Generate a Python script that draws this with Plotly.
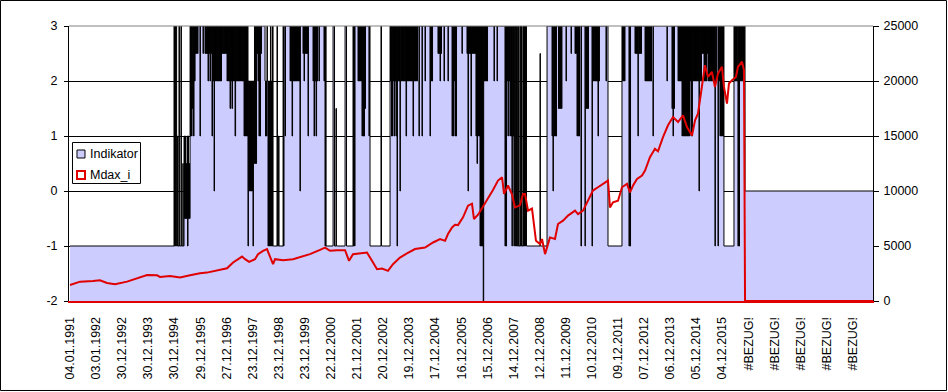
import plotly.graph_objects as go

# ---------------- data ----------------
date_labels = ["04.01.1991", "03.01.1992", "30.12.1992", "30.12.1993", "30.12.1994",
               "29.12.1995", "27.12.1996", "23.12.1997", "23.12.1998", "23.12.1999",
               "22.12.2000", "21.12.2001", "20.12.2002", "19.12.2003", "17.12.2004",
               "16.12.2005", "15.12.2006", "14.12.2007", "12.12.2008", "11.12.2009",
               "10.12.2010", "09.12.2011", "07.12.2012", "06.12.2013", "05.12.2014",
               "04.12.2015", "#BEZUG!", "#BEZUG!", "#BEZUG!", "#BEZUG!", "#BEZUG!"]
label_every = 250          # one category label every 250 rows
last_row = 7693            # last category row of the sheet

left_ticks = [-2, -1, 0, 1, 2, 3]
left_tick_text = ["-2", "-1", "0", "1", "2", "3"]
right_ticks = [0, 5000, 10000, 15000, 20000, 25000]
right_tick_text = ["0", "5000", "10000", "15000", "20000", "25000"]

# Indikator: (row where value starts, value)
indikator_changes = [
    (0, -1),
    (996, 3), (1001, -1), (1006, 3), (1011, -1), (1015, 3), (1021, -1),
    (1030, 1), (1034, -1), (1044, 3), (1048, -1), (1063, 3), (1067, -1), (1081, 0.5), (1084, -1),
    (1092, 1), (1097, -0.5), (1102, 1), (1106, -0.5), (1111, 0.5), (1116, -0.5), (1121, 1), (1126, -1),
    (1130, 1), (1135, -0.5), (1140, 0.5), (1145, -0.5),
    (1150, 3), (1154, 1), (1159, 3), (1164, 1), (1169, 3), (1174, 1.5), (1178, 3), (1183, 1), (1188, 3), (1193, 2),
    (1198, 3), (1202, 2.5), (1207, 3), (1212, 2.5), (1217, 3), (1222, 2.5), (1226, 3),
    (1245, 1), (1249, 3), (1274, 2.5), (1278, 3),
    (1293, 2.5), (1298, 3), (1303, 2.5), (1308, 3), (1312, 2.5), (1317, 3), (1322, 2), (1327, 3), (1332, 2.5),
    (1336, 3), (1341, 2), (1346, 3), (1351, 2.5), (1356, 3),
    (1360, 1), (1365, 3), (1370, 2), (1375, 3), (1380, 0), (1384, 3), (1389, 2), (1394, 3), (1399, 2), (1403, 3),
    (1408, 2), (1413, 3), (1418, 2), (1423, 3), (1428, 2), (1432, 3), (1437, 2), (1442, 3), (1447, 2), (1451, 3),
    (1456, 2.5), (1461, 3), (1466, 2.5), (1471, 3), (1475, 2.5), (1480, 3), (1485, 2.5), (1490, 3), (1495, 2.5), (1499, 3),
    (1504, 2), (1509, 3), (1514, 2), (1518, 3), (1523, 2), (1528, 3), (1533, 1.5), (1538, 3), (1542, 2), (1547, 3),
    (1552, 1.5), (1557, 3), (1562, 2), (1566, 3), (1571, 2), (1576, 3), (1581, 1), (1586, 3), (1590, 2), (1595, 3),
    (1600, 2), (1605, 3), (1609, 2), (1614, 3), (1619, 2), (1624, 3), (1629, 2), (1633, 3), (1638, 2), (1643, 3),
    (1648, 2), (1653, 3), (1657, 2), (1662, 3), (1667, 1), (1672, 3),
    (1677, 1), (1681, 3), (1686, 1), (1691, 3), (1696, 1), (1700, 3),
    (1705, -1), (1709, 2), (1715, 0), (1719, 2), (1724, 0), (1729, 2), (1734, 0), (1739, 2), (1744, 0), (1748, 2),
    (1753, -1), (1757, 2),
    (1763, 0.5), (1767, 3), (1772, 0.5), (1777, 3), (1782, 0.5), (1787, 3),
    (1791, 2.5), (1796, 3), (1801, 2), (1806, 3), (1810, 1), (1815, 3), (1820, 1), (1825, 3), (1830, 2.5), (1834, 3),
    (1868, 2), (1873, 1), (1878, 2), (1882, 1), (1887, 3), (1891, 2),
    (1897, -1), (1901, 2), (1906, -1), (1911, 2), (1916, -1), (1920, 3), (1925, -1), (1930, 2), (1935, -1), (1940, 3), (1945, -1),
    (1983, 3), (1987, -1), (1998, 1), (2002, -1),
    (2041, 3), (2045, -1), (2050, 3), (2060, 1), (2064, 3),
    (2108, 2), (2112, 3), (2117, 2), (2122, 3), (2127, 1), (2132, 3), (2136, 2), (2141, 3), (2146, 2), (2151, 3),
    (2155, 2), (2160, 3), (2165, 2), (2170, 3), (2175, 2), (2179, 3), (2184, 2), (2189, 3), (2194, 2), (2199, 3),
    (2203, 0), (2207, 3),
    (2232, 2.5), (2237, 3), (2242, 2), (2246, 3), (2251, 2.5), (2256, 3), (2261, 2.5), (2266, 3), (2270, 2.5), (2275, 3),
    (2280, 1), (2284, 3),
    (2328, 2), (2333, 3), (2338, 1), (2342, 3), (2347, 2), (2352, 3), (2357, 1), (2362, 3), (2366, 2), (2371, 3),
    (2385, 2), (2389, 3),
    (2433, 2), (2438, 3), (2443, -1), (2448, 3), (2453, -1),
    (2520, 3), (2534, -1), (2548, 1.5), (2552, -1),
    (2635, 3), (2649, -1),
    (2711, 3), (2716, -1), (2721, 3), (2726, -1), (2730, 3),
    (2759, 2), (2764, 3), (2768, 2), (2773, 3), (2778, 2), (2783, 3), (2788, 2), (2792, 3),
    (2797, 1), (2802, 3), (2807, 1), (2812, 3), (2816, 1), (2821, 3), (2826, 1.5), (2831, 3),
    (2864, 1), (2868, 3), (2874, -1),
    (2979, 3), (2984, -1),
    (3066, 3), (3070, 2), (3075, 3), (3080, 1), (3085, 3), (3090, 1), (3094, 3), (3099, 2), (3104, 3), (3109, 1),
    (3114, 3), (3118, 2), (3123, 3), (3128, 1), (3133, -1), (3137, 3),
    (3142, 2), (3147, 3), (3152, 2), (3157, 3), (3161, 0), (3165, 3), (3171, 2), (3176, 3), (3181, 2), (3185, 3),
    (3190, 2), (3195, 3), (3200, 2), (3205, 3),
    (3209, 2), (3214, 3), (3219, 1), (3224, 3), (3228, 2), (3233, 3), (3238, 2), (3243, 3), (3248, 2), (3252, 3),
    (3257, 2), (3262, 3), (3267, 2), (3272, 3),
    (3276, 2), (3281, 3), (3286, 1), (3291, 3), (3295, 2), (3300, 3), (3305, 2), (3310, 3), (3315, 2), (3319, 3),
    (3324, 2), (3329, 3),
    (3343, 1), (3347, 3), (3372, 1), (3376, 3), (3401, 2), (3405, 3), (3449, 1), (3453, 3), (3459, 2), (3463, 3),
    (3468, 2), (3473, 3),
    (3525, 2.5), (3530, 3), (3535, 2.5), (3540, 3), (3545, 2), (3549, 3), (3554, 2.5), (3559, 3),
    (3583, 2), (3587, 3), (3621, 2), (3625, 3),
    (3660, 1), (3664, 3), (3669, 1), (3674, 3), (3679, 2), (3684, 3), (3688, 1), (3693, 3), (3698, 1), (3703, 3),
    (3755, 2.5), (3759, 3),
    (3803, 2.5), (3808, 3), (3813, 0), (3817, 3), (3822, 2.5), (3827, 3), (3832, 2.5), (3837, 3), (3841, 1), (3846, 3),
    (3851, 2.5), (3856, 3), (3861, 2.5), (3865, 3), (3870, 2.5), (3875, 3), (3880, 2.5), (3885, 3),
    (3889, 1), (3894, 3), (3899, 0.5), (3904, 3), (3909, 1), (3913, 3), (3918, 1), (3923, 3),
    (3928, -1), (3933, 3), (3937, -1), (3942, 3), (3947, -1), (3952, 3), (3959, -2), (3963, 3),
    (3966, 2), (3971, 3), (3976, 2), (3980, 3), (3985, 2), (3990, 3), (3995, 2), (4000, 3),
    (4062, 2), (4066, 3), (4091, 2), (4095, 3),
    (4167, -1), (4172, 3), (4177, -1), (4182, 3), (4187, 2), (4191, 3),
    (4196, 1), (4200, 3), (4206, 2), (4210, 3), (4215, 1), (4219, 3), (4225, 1), (4229, 3), (4234, -1), (4238, 3),
    (4244, 1), (4248, 3), (4253, -1), (4257, 3), (4263, -1), (4267, 3), (4277, -1), (4282, 3), (4286, -1), (4296, 3),
    (4300, -1), (4311, 3), (4315, -1), (4325, 3), (4329, -1), (4340, 3), (4344, -1), (4349, 3), (4354, -1), (4359, 3),
    (4364, -1), (4368, 3), (4373, -1),
    (4503, 2.5), (4506, -1),
    (4570, 3),
    (4618, 1), (4622, 3), (4627, 0), (4631, 3), (4637, 1), (4641, 3), (4646, 1), (4651, 3), (4656, 1), (4661, 3),
    (4680, 1.5), (4685, 3), (4689, 1.5), (4694, 3), (4699, 1.5), (4704, 3), (4708, 1.5), (4713, 3),
    (4752, 2), (4756, 3), (4800, 2.5), (4804, 3),
    (4838, 2.5), (4843, 3), (4847, 2.5), (4852, 3), (4857, 1), (4862, 3), (4867, 1), (4871, 3), (4876, 1), (4881, 3),
    (4895, -1), (4900, 3), (4934, -1), (4937, 3),
    (4943, 1.5), (4948, 3), (4953, 1.5), (4957, 3), (4962, 1.5), (4967, 3),
    (5001, -1), (5005, 3),
    (5010, 2), (5015, 3), (5020, 2), (5024, 3), (5029, 2), (5034, 3), (5039, 2), (5044, 3), (5048, 2), (5053, 3),
    (5058, 1), (5063, 3), (5068, 2), (5072, 3),
    (5135, 2), (5139, 3), (5154, -1),
    (5288, 3), (5293, 2), (5298, 3), (5303, 2), (5307, 3), (5312, 2), (5317, 3),
    (5355, -1), (5360, 3), (5365, -1), (5370, 3),
    (5413, 2.5), (5417, 3), (5422, 2.5), (5427, 3), (5432, 2.5), (5437, 3), (5441, 1), (5445, 3), (5451, 2.5), (5456, 3),
    (5461, 2.5), (5465, 3), (5470, 2.5), (5475, 3),
    (5509, 2), (5513, 3), (5518, 2), (5523, 3), (5528, 2), (5533, 3), (5537, 2), (5542, 3), (5547, 2), (5552, 3),
    (5556, 2), (5561, 3), (5566, 2), (5571, 3),
    (5585, 1), (5589, 3), (5719, 2), (5723, 3),
    (5767, 1.5), (5772, 3), (5777, 1), (5781, 3), (5786, 1.5), (5791, 3),
    (5825, 2), (5830, 3), (5834, 2), (5839, 3), (5844, 2), (5849, 3), (5853, 2), (5858, 3),
    (5863, 1), (5868, 3), (5873, 1), (5877, 3), (5882, 1), (5887, 3), (5892, 1), (5897, 3), (5901, 1), (5906, 3),
    (5911, 1), (5916, 3), (5920, 1), (5925, 3), (5930, 1), (5935, 3), (5940, 2), (5944, 3), (5949, 1), (5954, 3),
    (5959, 1), (5963, 3),
    (5968, 2), (5973, 3), (5978, 2), (5983, 3), (5988, 2), (5992, 3), (5997, 2), (6002, 3), (6007, 2), (6011, 3),
    (6016, 2), (6021, 3), (6026, 0), (6030, 3),
    (6035, 2), (6040, 3), (6045, 2), (6050, 3), (6055, 2.5), (6059, 3), (6064, 2.5), (6069, 3), (6074, 2), (6079, 3),
    (6083, 2), (6088, 3), (6093, 2), (6098, 3), (6102, 2.5), (6107, 3), (6112, 2), (6117, 3), (6122, 2), (6126, 3),
    (6131, 2), (6136, 3), (6141, 2), (6146, 3), (6150, 2), (6155, 3), (6160, 2), (6165, 3), (6170, 2), (6174, 3),
    (6179, -1), (6183, 3), (6189, 2), (6193, 3), (6208, -1), (6212, 3), (6218, 2), (6222, 3),
    (6227, 1), (6232, 3), (6237, 1), (6242, 3), (6246, 1), (6251, 3), (6256, 1), (6261, 3),
    (6265, -1),
    (6361, 3), (6366, 2), (6371, 3), (6375, 2), (6380, 3), (6385, 2), (6390, 3), (6394, 2), (6399, -1), (6404, 3),
    (6409, -1), (6414, 3), (6418, 2), (6423, 3), (6428, 2), (6433, 3), (6438, 2), (6442, 3), (6447, 2), (6452, 3),
    (6457, 2), (6461, 3),
    (6467, 0),
]

# Mdax_i: (row, value)
mdax_points = [
    (0, 1450), (96, 1760), (220, 1825), (287, 1890), (354, 1640), (431, 1520), (546, 1760), (642, 2070),
    (738, 2370), (833, 2340), (862, 2190), (958, 2280), (1054, 2130), (1150, 2340), (1245, 2530), (1312, 2580),
    (1408, 2800), (1504, 2980), (1562, 3500), (1648, 4040), (1677, 3800), (1715, 3560), (1772, 3800), (1801, 4260),
    (1849, 4560), (1887, 4720), (1906, 4260), (1945, 3350), (1964, 3800), (2041, 3710), (2136, 3800), (2203, 4010),
    (2299, 4260), (2395, 4650), (2443, 4860), (2491, 4560), (2558, 4620), (2635, 4620), (2673, 3650), (2711, 4260),
    (2797, 4380), (2845, 4400), (2893, 3650), (2941, 2890), (2989, 2950), (3046, 2740), (3094, 3350), (3161, 3950),
    (3228, 4320), (3305, 4720), (3401, 4860), (3478, 5320), (3545, 5630), (3593, 5470), (3621, 6090), (3660, 6690),
    (3688, 6930), (3717, 6900), (3765, 7600), (3813, 8670), (3851, 8850), (3870, 7450), (3909, 7850), (3957, 8600),
    (4004, 9300), (4052, 10100), (4100, 10950), (4139, 11250), (4158, 9730), (4196, 10500), (4234, 9700), (4263, 8510),
    (4311, 8700), (4340, 9730), (4359, 9730), (4388, 8210), (4426, 8400), (4445, 6690), (4464, 5470), (4503, 5170),
    (4522, 5630), (4551, 4260), (4598, 5780), (4646, 5630), (4675, 7000), (4723, 7300), (4771, 7760), (4838, 8210),
    (4867, 7900), (4915, 8210), (4962, 9120), (5010, 10040), (5058, 10340), (5106, 10650), (5154, 10950), (5173, 8510),
    (5202, 8970), (5250, 9120), (5288, 10340), (5336, 10650), (5365, 9880), (5394, 10500), (5432, 11100), (5480, 11400),
    (5509, 11860), (5556, 13070), (5604, 13840), (5633, 13600), (5681, 14900), (5729, 15970), (5777, 16720), (5825, 16270),
    (5873, 16880), (5911, 15810), (5959, 15050), (5988, 16420), (6016, 17030), (6035, 18250), (6055, 19770), (6083, 21440),
    (6112, 20370), (6150, 20830), (6179, 19460), (6208, 20680), (6246, 21290), (6265, 19460), (6294, 17950), (6313, 19770),
    (6342, 20070), (6380, 20370), (6399, 21290), (6438, 21750), (6457, 20980), (6467, 0), (7693, 0),
]

# ---------------- figure ----------------
LAV = "#CCCCFF"
RED = "#E00000"
FONT = "Arial, 'Liberation Sans', sans-serif"

ind_x = [r for r, _ in indikator_changes] + [last_row]
ind_y = [v for _, v in indikator_changes] + [indikator_changes[-1][1]]
mdax_x = [r for r, _ in mdax_points]
mdax_y = [v for _, v in mdax_points]

fig = go.Figure()
fig.add_trace(go.Scatter(x=[0, last_row], y=[-2, -2], mode="lines", line=dict(width=0),
                         hoverinfo="skip", showlegend=False))
fig.add_trace(go.Scatter(x=ind_x, y=ind_y, mode="lines", name="Indikator",
                         line=dict(color="black", width=1, shape="hv"),
                         fill="tonexty", fillcolor=LAV, showlegend=False))
fig.add_trace(go.Scatter(x=mdax_x, y=mdax_y, mode="lines", name="Mdax_i", yaxis="y2",
                         line=dict(color=RED, width=2), showlegend=False))

tickvals = [i * label_every for i in range(len(date_labels))]

fig.update_layout(
    width=948, height=392,
    margin=dict(l=69, r=75, t=26, b=91),
    paper_bgcolor="white", plot_bgcolor="white",
    font=dict(family=FONT, size=12.5, color="black"),
    showlegend=False, hovermode=False,
    xaxis=dict(range=[-10, last_row], tickvals=tickvals, ticktext=date_labels, tickangle=-90,
               showgrid=False, zeroline=False, showline=True, linecolor=RED, linewidth=2,
               ticks="", ticklabelstandoff=9, tickfont=dict(family=FONT, size=12.5)),
    yaxis=dict(range=[-2, 3], tickvals=left_ticks, ticktext=left_tick_text,
               showgrid=True, gridcolor="black", gridwidth=1, zeroline=False,
               showline=True, linecolor="black", linewidth=1,
               ticks="outside", ticklen=4, tickcolor="black", ticklabelstandoff=4),
    yaxis2=dict(range=[0, 25000], tickvals=right_ticks, ticktext=right_tick_text,
                overlaying="y", side="right",
                showgrid=False, zeroline=False, showline=True, linecolor="black", linewidth=1,
                ticks="outside", ticklen=5, tickcolor="black", ticklabelstandoff=2),
)

shapes = [
    # plot area top border (grey)
    dict(type="line", xref="paper", yref="paper", x0=0, x1=1, y0=1, y1=1,
         line=dict(color="#808080", width=1), layer="above"),
    # chart border
    dict(type="rect", xref="paper", yref="paper", x0=-0.0852, x1=1.0914, y0=-0.32545, y1=1.09273,
         line=dict(color="black", width=1), fillcolor="rgba(0,0,0,0)", layer="above"),
    # legend box
    dict(type="rect", xref="paper", yref="paper", x0=0.00435, x1=0.08893, y0=0.42727, y1=0.57636,
         line=dict(color="black", width=1), fillcolor="white", layer="above"),
    dict(type="rect", xref="paper", yref="paper", x0=0.00995, x1=0.0199, y0=0.52, y1=0.54909,
         line=dict(color="black", width=1), fillcolor=LAV, layer="above"),
    dict(type="rect", xref="paper", yref="paper", x0=0.00995, x1=0.0199, y0=0.44364, y1=0.47273,
         line=dict(color=RED, width=2), fillcolor="white", layer="above"),
]
fig.update_layout(shapes=shapes)

fig.add_annotation(xref="paper", yref="paper", x=0.02363, y=0.53455, text="Indikator",
                   showarrow=False, xanchor="left", yanchor="middle",
                   font=dict(family=FONT, size=12.5, color="black"))
fig.add_annotation(xref="paper", yref="paper", x=0.02363, y=0.45818, text="Mdax_i",
                   showarrow=False, xanchor="left", yanchor="middle",
                   font=dict(family=FONT, size=12.5, color="black"))

fig.write_html("out.html", config={"displayModeBar": False},
               post_script="document.body.style.margin='0px';")
